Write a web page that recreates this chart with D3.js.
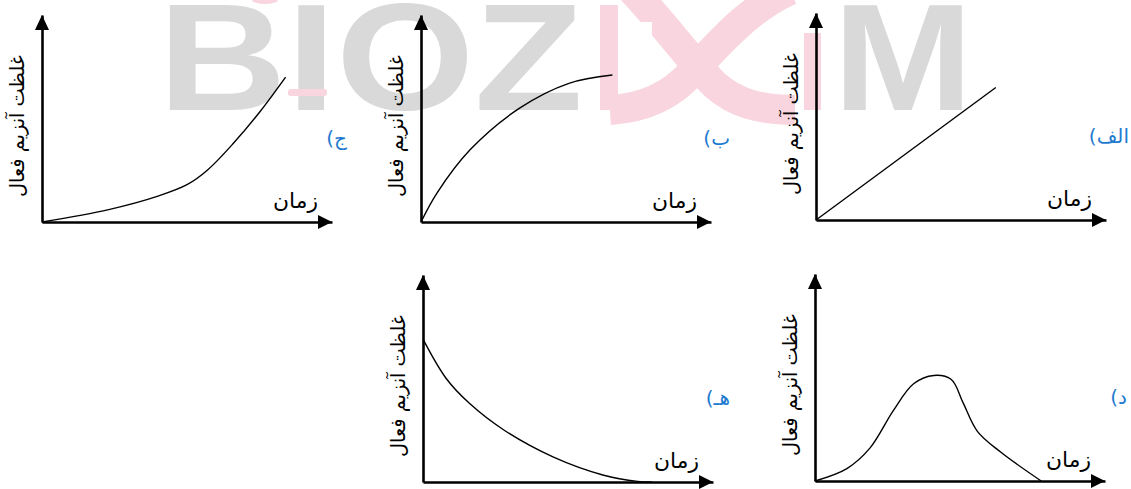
<!DOCTYPE html>
<html>
<head>
<meta charset="utf-8">
<script src="https://cdn.jsdelivr.net/npm/d3@7"></script>
<style>
  html, body { margin: 0; padding: 0; background: #fff; }
  svg { display: block; }
</style>
</head>
<body>
<svg id="chart" width="1131" height="489"></svg>
<script>
// Axis titles and panel captions
const yAxisTitle = "غلظت آنزیم فعال";
const xAxisTitle = "زمان";
const panelCaptions = ["الف)", "ب)", "ج)", "د)", "هـ)"];

// Curves: [time, active enzyme concentration] on a 0–100 scale
const curveAlef = [[0, 0], [62, 64]];
const curveBe   = [[0, 0], [5.5, 14], [17, 35], [34, 55], [51, 67], [66, 71]];
const curveJim  = [[0, 0], [23, 6], [40, 12.5], [50, 18], [57, 25], [66, 38], [75, 53], [84, 70]];
const curveDal  = [[0, 0], [11, 6], [19, 16], [27, 34], [34, 47], [41, 51], [47, 49], [51, 38], [56, 24], [64, 14], [78, 0]];
const curveHe   = [[0, 69], [8, 50], [16, 38], [28, 25], [45, 12], [62, 3.4], [74, 0.3], [79, 0]];

// Watermark text
const markLeft = "BIOZ";
const markRight = "M";

const svg = d3.select("#chart");

// ---- watermark (behind everything) ----
const wm = svg.append("g").attr("class", "watermark");
const grey = "#d9d9d9", pink = "#f8d5df";
wm.append("text")
  .attr("x", 158).attr("y", 110)
  .attr("font-family", "Liberation Sans, Arial, sans-serif")
  .attr("font-weight", "bold")
  .attr("font-size", 152)
  .attr("textLength", 425)
  .attr("lengthAdjust", "spacingAndGlyphs")
  .attr("fill", grey)
  .text(markLeft);
wm.append("text")
  .attr("x", 833).attr("y", 110)
  .attr("font-family", "Liberation Sans, Arial, sans-serif")
  .attr("font-weight", "bold")
  .attr("font-size", 152)
  .attr("textLength", 140)
  .attr("lengthAdjust", "spacingAndGlyphs")
  .attr("fill", grey)
  .text(markRight);
// helix-like crossing bands
wm.append("path")
  .attr("d", "M632,-10 C665,25 690,60 715,85 C735,103 760,110 795,110")
  .attr("fill", "none").attr("stroke", pink).attr("stroke-width", 30);
wm.append("path")
  .attr("d", "M610,110 C645,108 672,95 692,72 C722,40 750,8 790,-10")
  .attr("fill", "none").attr("stroke", pink).attr("stroke-width", 30);
wm.append("rect").attr("x", 600).attr("y", 5).attr("width", 18).attr("height", 105).attr("fill", pink);
wm.append("rect").attr("x", 804).attr("y", 33).attr("width", 17).attr("height", 77).attr("fill", pink);
wm.append("rect").attr("x", 640).attr("y", 22).attr("width", 12).attr("height", 38).attr("fill", "#fff");
wm.append("rect").attr("x", 288).attr("y", 89).attr("width", 39).attr("height", 7).attr("rx", 3).attr("fill", pink);
wm.append("ellipse").attr("cx", 265).attr("cy", 0).attr("rx", 13).attr("ry", 4).attr("fill", pink);

// ---- panels ----
const XLEN = 290, YLEN = 207;
// capRight: right edge of the caption, measured from the panel origin
const panels = [
  { data: curveAlef, caption: panelCaptions[0], ox: 816, oy: 220, capRight: 313 },
  { data: curveBe,   caption: panelCaptions[1], ox: 421, oy: 222, capRight: 309 },
  { data: curveJim,  caption: panelCaptions[2], ox: 42,  oy: 222, capRight: 305 },
  { data: curveDal,  caption: panelCaptions[3], ox: 815, oy: 481, capRight: 312 },
  { data: curveHe,   caption: panelCaptions[4], ox: 423, oy: 482, capRight: 307 }
];

const arabicFont = "DejaVu Sans, Arial, sans-serif";

panels.forEach(p => {
  const g = svg.append("g").attr("class", "panel");
  const x = d3.scaleLinear().domain([0, 100]).range([p.ox, p.ox + XLEN]);
  const y = d3.scaleLinear().domain([0, 100]).range([p.oy, p.oy - YLEN]);

  // axes as bare domain lines
  const xa = g.append("g").attr("transform", `translate(0,${p.oy})`)
    .call(d3.axisBottom(x).tickValues([]).tickSizeOuter(0));
  const ya = g.append("g").attr("transform", `translate(${p.ox},0)`)
    .call(d3.axisLeft(y).tickValues([]).tickSizeOuter(0));
  [xa, ya].forEach(a => a.select(".domain")
    .attr("stroke", "#000").attr("stroke-width", 2.6));

  // arrowheads
  const xt = x(100), yt = y(100);
  g.append("path")
    .attr("d", `M${xt},${p.oy} L${xt - 14},${p.oy - 7} L${xt - 14},${p.oy + 7} Z`)
    .attr("fill", "#000");
  g.append("path")
    .attr("d", `M${p.ox},${yt} L${p.ox - 7},${yt + 15} L${p.ox + 7},${yt + 15} Z`)
    .attr("fill", "#000");

  // curve
  const line = d3.line()
    .x(d => x(d[0])).y(d => y(d[1]))
    .curve(p.data.length > 2 ? d3.curveCatmullRom.alpha(0.5) : d3.curveLinear);
  g.append("path").datum(p.data)
    .attr("d", line)
    .attr("fill", "none").attr("stroke", "#000").attr("stroke-width", 1.4);

  // y title
  g.append("text")
    .attr("transform", `translate(${p.ox - 25},${p.oy - 96}) rotate(-90)`)
    .attr("text-anchor", "middle")
    .attr("dominant-baseline", "central")
    .attr("direction", "rtl")
    .attr("font-family", arabicFont)
    .attr("font-size", 20)
    .attr("textLength", 142)
    .attr("lengthAdjust", "spacingAndGlyphs")
    .attr("fill", "#000")
    .text(yAxisTitle);

  // x title
  g.append("text")
    .attr("x", p.ox + 276).attr("y", p.oy - 14)
    .attr("text-anchor", "end")
    .attr("font-family", arabicFont)
    .attr("font-size", 21)
    .attr("textLength", 45)
    .attr("lengthAdjust", "spacingAndGlyphs")
    .attr("fill", "#000")
    .text(xAxisTitle);

  // caption, right-aligned
  g.append("text")
    .attr("x", p.ox + p.capRight).attr("y", p.oy - 84)
    .attr("direction", "rtl")
    .attr("text-anchor", "start")
    .attr("dominant-baseline", "central")
    .attr("font-family", arabicFont)
    .attr("font-size", 20)
    .attr("fill", "#1f7bd0")
    .text(p.caption);
});
</script>
</body>
</html>
